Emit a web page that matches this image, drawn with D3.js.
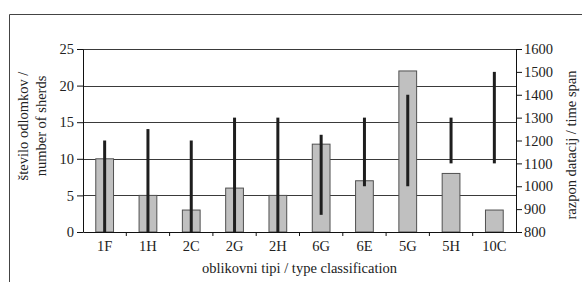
<!DOCTYPE html>
<html>
<head>
<meta charset="utf-8">
<script src="https://cdn.jsdelivr.net/npm/d3@7"></script>
<style>
  body { margin: 0; background: #fff; }
  text { font-family: "Liberation Serif", "Times New Roman", serif; fill: #222; }
</style>
</head>
<body>
<svg id="chart" width="582" height="282"></svg>
<script>
const categories = ['1F', '1H', '2C', '2G', '2H', '6G', '6E', '5G', '5H', '10C'];
const sherds = [10, 5, 3, 6, 5, 12, 7, 22, 8, 3];
const spanFrom = [800, 800, 800, 800, 800, 875, 1000, 1000, 1100, 1100];
const spanTo = [1200, 1250, 1200, 1300, 1300, 1225, 1300, 1400, 1300, 1500];
const leftTicks = [0, 5, 10, 15, 20, 25];
const rightTicks = [800, 900, 1000, 1100, 1200, 1300, 1400, 1500, 1600];

const margin = { top: 49, right: 66, bottom: 50, left: 83 };
const width = 582, height = 282;
const svg = d3.select('#chart');

// outer frame (only top and left visible)
svg.append('path')
  .attr('d', 'M9.5,282 L9.5,14.5 L582,14.5')
  .attr('fill', 'none')
  .attr('stroke', '#444')
  .attr('stroke-width', 1);

const x = d3.scaleBand()
  .domain(categories)
  .range([margin.left, width - margin.right]);

const y = d3.scaleLinear()
  .domain([0, 25])
  .range([height - margin.bottom, margin.top]);

const y2 = d3.scaleLinear()
  .domain([800, 1600])
  .range([height - margin.bottom, margin.top]);

const g = svg.append('g');

// gridlines
g.selectAll('line.grid')
  .data(leftTicks.slice(1))
  .enter()
  .append('line')
  .attr('class', 'grid')
  .attr('x1', margin.left)
  .attr('x2', width - margin.right)
  .attr('y1', d => Math.round(y(d)) + 0.5)
  .attr('y2', d => Math.round(y(d)) + 0.5)
  .attr('stroke', '#3a3a3a')
  .attr('stroke-width', 1);

// bars
const bw = x.bandwidth() * 0.41;
g.selectAll('rect.bar')
  .data(categories)
  .enter()
  .append('rect')
  .attr('class', 'bar')
  .attr('x', d => x(d) + x.bandwidth() / 2 - bw / 2)
  .attr('y', (d, i) => y(sherds[i]))
  .attr('width', bw)
  .attr('height', (d, i) => y(0) - y(sherds[i]))
  .attr('fill', '#c0c0c0')
  .attr('stroke', '#505050')
  .attr('stroke-width', 1);

// time span lines
g.selectAll('line.span')
  .data(categories)
  .enter()
  .append('line')
  .attr('class', 'span')
  .attr('x1', d => x(d) + x.bandwidth() / 2)
  .attr('x2', d => x(d) + x.bandwidth() / 2)
  .attr('y1', (d, i) => y2(spanFrom[i]))
  .attr('y2', (d, i) => y2(spanTo[i]))
  .attr('stroke', '#1e1e1e')
  .attr('stroke-width', 3);

// axes
const leftAxis = d3.axisLeft(y).tickValues(leftTicks).tickSize(6).tickPadding(3).tickSizeOuter(0);
const rightAxis = d3.axisRight(y2).tickValues(rightTicks).tickFormat(d3.format('d'))
  .tickSize(6).tickPadding(2).tickSizeOuter(0);
const bottomAxis = d3.axisBottom(x).tickSize(0).tickPadding(9).tickSizeOuter(0);

function styleAxis(sel) {
  sel.select('.domain').attr('stroke', '#111');
  sel.selectAll('.tick line').attr('stroke', '#111');
  sel.selectAll('.tick text')
    .attr('font-family', '"Liberation Serif", serif')
    .attr('font-size', 14.5)
    .attr('fill', '#222');
}

svg.append('g')
  .attr('transform', `translate(${margin.left},0)`)
  .call(leftAxis)
  .call(styleAxis);

svg.append('g')
  .attr('transform', `translate(${width - margin.right},0)`)
  .call(rightAxis)
  .call(styleAxis);

svg.append('g')
  .attr('transform', `translate(0,${height - margin.bottom})`)
  .call(bottomAxis)
  .call(styleAxis);

// small ticks between categories on the x axis
svg.append('g').selectAll('line')
  .data(categories.slice(1))
  .enter()
  .append('line')
  .attr('x1', d => x(d))
  .attr('x2', d => x(d))
  .attr('y1', height - margin.bottom)
  .attr('y2', height - margin.bottom + 4)
  .attr('stroke', '#111');

// titles
svg.append('text')
  .attr('transform', 'translate(28,126) rotate(-90)')
  .attr('text-anchor', 'middle')
  .attr('font-size', 14.5)
  .text('število odlomkov /');

svg.append('text')
  .attr('transform', 'translate(46,126) rotate(-90)')
  .attr('text-anchor', 'middle')
  .attr('font-size', 14.5)
  .text('number of sherds');

svg.append('text')
  .attr('transform', 'translate(576,145) rotate(-90)')
  .attr('text-anchor', 'middle')
  .attr('font-size', 14.5)
  .text('razpon datacij / time span');

svg.append('text')
  .attr('x', (margin.left + width - margin.right) / 2)
  .attr('y', 273)
  .attr('text-anchor', 'middle')
  .attr('font-size', 14.5)
  .text('oblikovni tipi / type classification');
</script>
</body>
</html>
